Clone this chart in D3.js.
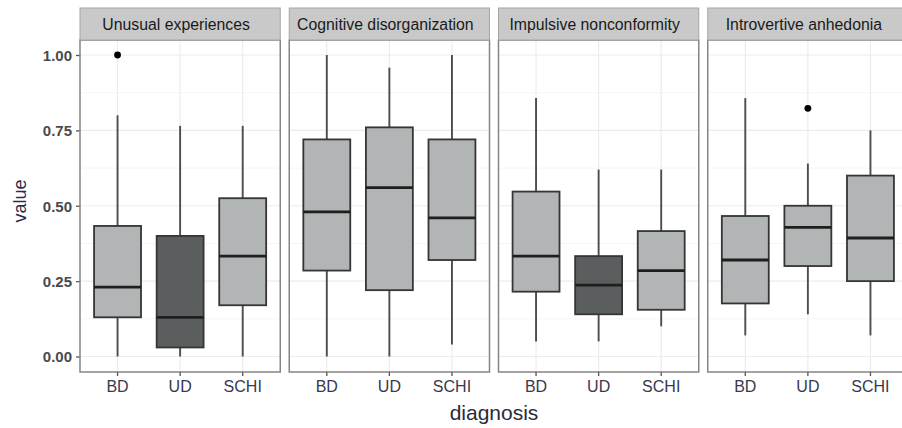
<!DOCTYPE html>
<html lang="en">
  <head>
    <meta charset="UTF-8" />
    <title>Schizotypy by diagnosis</title>
    <script src="https://d3js.org/d3.v7.min.js"></script>
    <style>
      body { margin: 0; background: #fff; }
      text { font-family: "Liberation Sans", Arial, sans-serif; }
    </style>
  </head>

  <body>
    <svg width="902" height="428"></svg>

    <script>
      // facets and categories
      const facets = ["Unusual experiences", "Cognitive disorganization", "Impulsive nonconformity", "Introvertive anhedonia"];
      const diagnoses = ["BD", "UD", "SCHI"];
      const yTicks = [0, 0.25, 0.5, 0.75, 1];

      // box stats per facet, in order BD, UD, SCHI
      const lower = [[0.00, 0.00, 0.00], [0.00, 0.00, 0.04], [0.05, 0.05, 0.10], [0.07, 0.14, 0.07]];
      const q1 = [[0.13, 0.03, 0.17], [0.285, 0.22, 0.32], [0.215, 0.14, 0.155], [0.176, 0.30, 0.25]];
      const median = [[0.23, 0.13, 0.333], [0.48, 0.56, 0.46], [0.333, 0.237, 0.285], [0.32, 0.428, 0.393]];
      const q3 = [[0.433, 0.40, 0.525], [0.72, 0.76, 0.72], [0.547, 0.333, 0.416], [0.466, 0.50, 0.60]];
      const upper = [[0.80, 0.765, 0.765], [1.00, 0.958, 1.00], [0.857, 0.62, 0.62], [0.857, 0.64, 0.75]];
      const outliers = [[[1.00], [], []], [[], [], []], [[], [], []], [[], [0.823], []]];
      // which boxes are drawn dark
      const darkBox = [[false, true, false], [false, false, false], [false, true, false], [false, false, false]];

      const svg = d3.select("svg");
      const panelTop = 40, panelBottom = 372;

      const fx = d3.scaleBand().domain(facets).range([80, 908]).paddingInner(0.043);
      const y = d3.scaleLinear().domain([0, 1]).range([356.5, 55]);

      // y axis
      const yAxis = svg.append("g").attr("transform", "translate(80,0)")
        .call(d3.axisLeft(y).tickValues(yTicks).tickFormat(d3.format(".2f")).tickSize(4).tickPadding(4));
      yAxis.select(".domain").remove();
      yAxis.selectAll("line").attr("stroke", "#555").attr("stroke-width", 1.3);
      yAxis.selectAll("text").attr("font-size", 15).attr("fill", "#4a4a4a").attr("font-weight", "bold").attr("dy", "0.35em");

      facets.forEach(function (f, i) {
        const x0 = fx(f);
        const x = d3.scaleBand().domain(diagnoses).range([x0, x0 + fx.bandwidth()]).paddingOuter(0.1).paddingInner(0);
        const step = x.step();
        const cx = d => x(d) + step / 2;
        const bw = step * 0.75;
        const g = svg.append("g");

        g.append("rect").attr("x", x0).attr("y", panelTop).attr("width", fx.bandwidth()).attr("height", panelBottom - panelTop)
          .attr("fill", "#fff");

        // grid: minor then major
        g.selectAll(".minor").data([0.125, 0.375, 0.625, 0.875]).join("line")
          .attr("x1", x0).attr("x2", x0 + fx.bandwidth())
          .attr("y1", d => y(d)).attr("y2", d => y(d))
          .attr("stroke", "#f5f5f5").attr("stroke-width", 1);
        g.selectAll(".major").data(yTicks).join("line")
          .attr("x1", x0).attr("x2", x0 + fx.bandwidth())
          .attr("y1", d => y(d)).attr("y2", d => y(d))
          .attr("stroke", "#ececec").attr("stroke-width", 1.2);
        g.selectAll(".vgrid").data(diagnoses).join("line")
          .attr("x1", cx).attr("x2", cx).attr("y1", panelTop).attr("y2", panelBottom)
          .attr("stroke", "#ececec").attr("stroke-width", 1.2);

        diagnoses.forEach(function (d, j) {
          const c = cx(d);
          // whiskers
          g.append("line").attr("x1", c).attr("x2", c).attr("y1", y(q3[i][j])).attr("y2", y(upper[i][j]))
            .attr("stroke", "#4d4d4d").attr("stroke-width", 1.9);
          g.append("line").attr("x1", c).attr("x2", c).attr("y1", y(q1[i][j])).attr("y2", y(lower[i][j]))
            .attr("stroke", "#4d4d4d").attr("stroke-width", 1.9);
          g.append("rect").attr("x", c - bw / 2).attr("width", bw)
            .attr("y", y(q3[i][j])).attr("height", y(q1[i][j]) - y(q3[i][j]))
            .attr("fill", darkBox[i][j] ? "#5b5e5e" : "#b2b5b5")
            .attr("stroke", "#353535").attr("stroke-width", 1.8);
          g.append("line").attr("x1", c - bw / 2).attr("x2", c + bw / 2)
            .attr("y1", y(median[i][j])).attr("y2", y(median[i][j]))
            .attr("stroke", "#1e1e1e").attr("stroke-width", 2.8);
          g.selectAll(".out" + j).data(outliers[i][j]).join("circle")
            .attr("cx", c).attr("cy", v => y(v)).attr("r", 3.4).attr("fill", "#000");
        });

        // panel border
        g.append("rect").attr("x", x0).attr("y", panelTop).attr("width", fx.bandwidth()).attr("height", panelBottom - panelTop)
          .attr("fill", "none").attr("stroke", "#858585").attr("stroke-width", 1.5);

        // strip
        g.append("rect").attr("x", x0).attr("y", 8).attr("width", fx.bandwidth()).attr("height", panelTop - 8)
          .attr("fill", "#c9c9c9").attr("stroke", "#a5a5a5").attr("stroke-width", 1);
        g.append("text").attr("x", x0 + fx.bandwidth() / 2 - 4).attr("y", 24.5).attr("dy", "0.35em")
          .attr("text-anchor", "middle")
          .attr("font-size", 15.8).attr("fill", "#1a1a1a").text(f);

        // x axis
        const xa = svg.append("g").attr("transform", `translate(0,${panelBottom})`)
          .call(d3.axisBottom(x).tickSize(4).tickPadding(5));
        xa.select(".domain").remove();
        xa.selectAll("line").attr("stroke", "#555").attr("stroke-width", 1.3);
        xa.selectAll("text").attr("font-size", 16).attr("fill", "#38384e");
      });

      svg.append("text").attr("x", 494).attr("y", 413).attr("dy", "0.35em").attr("text-anchor", "middle")
        .attr("font-size", 21).attr("fill", "#2a2a3a").text("diagnosis");
      svg.append("text").attr("transform", "translate(20,201) rotate(-90)").attr("dy", "0.35em")
        .attr("text-anchor", "middle").attr("font-size", 18).attr("fill", "#2a2a4a").text("value");
    </script>
  </body>
</html>
